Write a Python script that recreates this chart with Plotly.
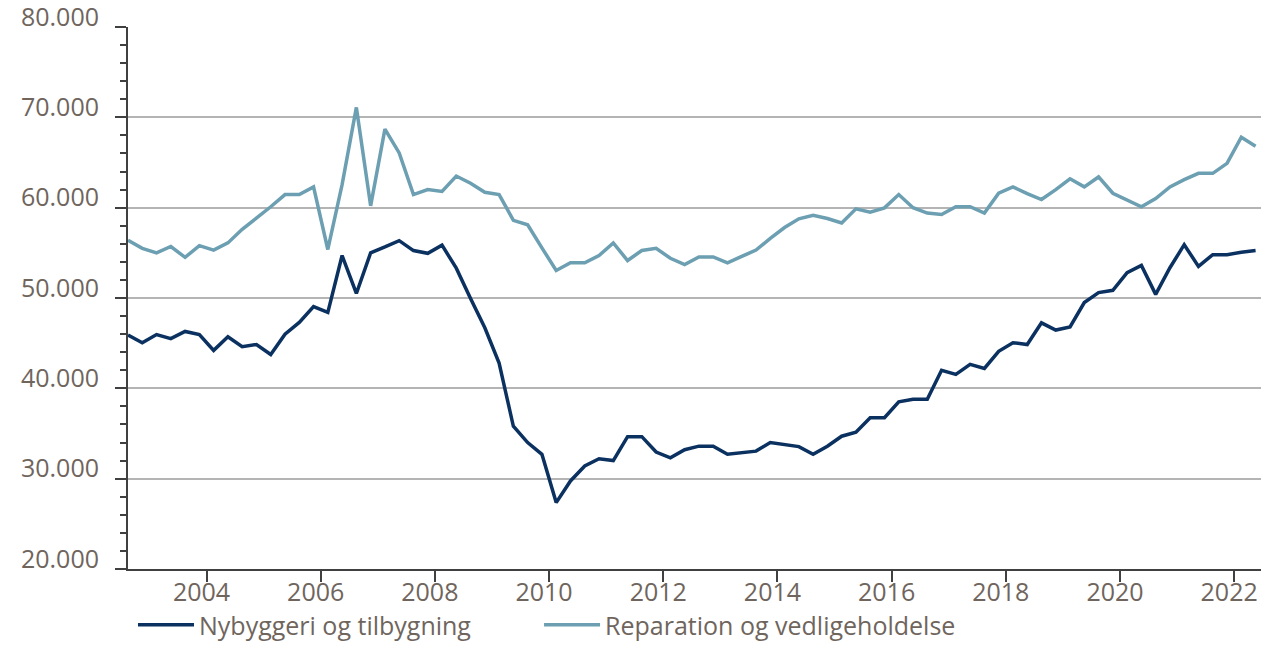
import plotly.graph_objects as go

# Quarterly data, Q3 2002 .. Q2 2022 (mid-quarter decimal years)
start_year = 2002.625
n_points = 80
quarters = [start_year + 0.25 * i for i in range(n_points)]

nybyggeri = [
    45900, 45050, 45950, 45500, 46300, 45950, 44200, 45700, 44600, 44850,
    43750, 46000, 47300, 49050, 48400, 54700, 50500, 55000, 55650, 56350,
    55250, 54950, 55850, 53300, 49950, 46700, 42800, 35800, 34000, 32700,
    27350, 29750, 31400, 32200, 32000, 34650, 34650, 32950, 32300, 33200,
    33600, 33600, 32700, 32900, 33050, 34000, 33800, 33550, 32700, 33600,
    34700, 35150, 36750, 36750, 38500, 38800, 38800, 42000, 41550, 42650,
    42200, 44100, 45050, 44850, 47250, 46450, 46800, 49500, 50600, 50850,
    52800, 53600, 50400, 53350, 55900, 53500, 54800, 54800, 55070, 55260,
]

reparation = [
    56400, 55500, 55000, 55700, 54500, 55800, 55300, 56100, 57600, 58800,
    60100, 61450, 61450, 62300, 55370, 62550, 71100, 60200, 68700, 66060,
    61450, 62000, 61800, 63500, 62700, 61700, 61450, 58600, 58100, 55550,
    53050, 53900, 53900, 54700, 56100, 54150, 55260, 55500, 54400, 53700,
    54550, 54550, 53900, 54600, 55300, 56600, 57800, 58760, 59160, 58800,
    58300, 59870, 59500, 59980, 61450, 60000, 59400, 59240, 60100, 60100,
    59400, 61600, 62300, 61560, 60900, 62000, 63200, 62300, 63400, 61600,
    60800, 60100, 61000, 62300, 63100, 63800, 63800, 64900, 67800, 66800,
]

series_names = ["Nybyggeri og tilbygning", "Reparation og vedligeholdelse"]
series_colors = ["#0b3160", "#6c9fb2"]
legend_ids = ["legend", "legend2"]

x_ticks = list(range(2004, 2023, 2))
y_ticks = list(range(20000, 80001, 10000))

text_color = "#6f655d"
axis_color = "#404040"
grid_color = "#b4b4b4"
font_family = "Open Sans"

fig = go.Figure()
for name, vals, col, lg in zip(series_names, [nybyggeri, reparation],
                               series_colors, legend_ids):
    fig.add_trace(go.Scatter(
        x=quarters, y=vals, mode="lines", name=name,
        line=dict(color=col, width=3.5),
        hoverinfo="skip", legend=lg,
    ))

legend_common = dict(
    orientation="h", xanchor="left", y=-0.1458, yanchor="bottom",
    font=dict(size=25, color=text_color, family=font_family),
    itemwidth=56, bgcolor="rgba(0,0,0,0)",
)

fig.update_layout(
    width=1261, height=648,
    margin=dict(l=128, r=0, t=27, b=79),
    paper_bgcolor="white", plot_bgcolor="white",
    separators=",.",
    font=dict(family=font_family, color=text_color, size=25),
    showlegend=True,
    legend=dict(x=0.0044, **legend_common),
    legend2=dict(x=0.3628, **legend_common),
)

fig.update_xaxes(
    range=[2002.625, 2022.47],
    tickvals=x_ticks, ticktext=[str(v) for v in x_ticks],
    ticks="outside", ticklen=11, tickwidth=2, tickcolor=axis_color,
    showline=True, linecolor=axis_color, linewidth=2,
    showgrid=False, zeroline=False, automargin=False,
    ticklabelstandoff=-11, ticklabelshift=-5, ticklabeloverflow="allow",
    tickfont=dict(size=25, color=text_color, family=font_family),
)

fig.update_yaxes(
    range=[20000, 80000],
    tickvals=y_ticks, tickformat=",d",
    ticks="outside", ticklen=11, tickwidth=2, tickcolor=axis_color,
    minor=dict(dtick=2000, ticks="outside", ticklen=6, tickwidth=2,
               tickcolor=axis_color, showgrid=False),
    showline=True, linecolor=axis_color, linewidth=2,
    showgrid=True, gridcolor=grid_color, gridwidth=1.5,
    zeroline=False, automargin=False,
    ticklabelshift=-10, ticklabelstandoff=11, ticklabeloverflow="allow",
    tickfont=dict(size=25, color=text_color, family=font_family),
)

fig.write_html("out.html", config={"displayModeBar": False},
               post_script="document.body.style.margin='0';")
